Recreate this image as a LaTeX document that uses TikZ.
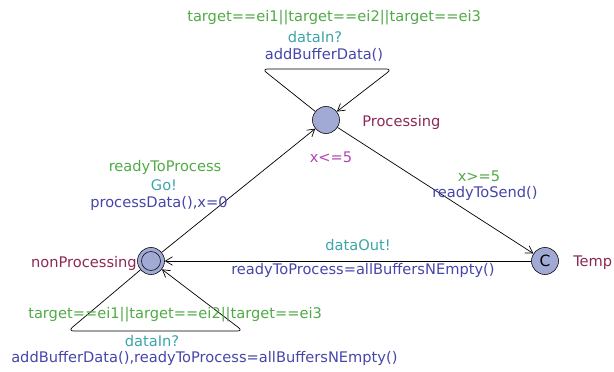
\documentclass[tikz,border=0pt]{standalone}
\usepackage{fontspec}
\setmainfont{DejaVu Sans}
\usetikzlibrary{arrows.meta}

\definecolor{guardc}{RGB}{80,170,70}
\definecolor{syncc}{RGB}{60,165,170}
\definecolor{assignc}{RGB}{70,70,170}
\definecolor{namec}{RGB}{140,40,85}
\definecolor{invc}{RGB}{175,70,180}
\definecolor{locfill}{RGB}{160,170,212}

\tikzset{
  loc/.style={circle,draw,fill=locfill,minimum size=27*0.7113pt,inner sep=0pt},
  edge/.style={-{Straight Barb[length=5pt,width=6pt]},line width=0.5pt},
  lbl/.style={font=\fontsize{10.4}{11}\selectfont,inner sep=0pt},
}

\begin{document}
\begin{tikzpicture}[x=0.025cm,y=-0.025cm]
			\useasboundingbox (0,0) rectangle (614,372);
			% locations
			\node[loc] (proc) at (326,120) {};
			\node[loc] (nonproc) at (151,261) {};
			\node[circle,draw,minimum size=19*0.7113pt,inner sep=0pt] at (nonproc) {};
			\node[loc] (temp) at (545,261) {};
			\node[lbl] at (temp) {\fontsize{11}{11}\selectfont C};
			\node[lbl,namec,anchor=west] at (362,122) {Processing};
			\node[lbl,namec,anchor=east] at (137,263) {nonProcessing};
			\node[lbl,namec,anchor=west] at (573,263) {Temp};
			\node[lbl,invc] at (331,157) {x<=5};
			% self loop on Processing
			\coordinate (pl) at (262,69);
			\coordinate (pr) at (392,69);
			\draw[edge,rounded corners=4pt] (proc) -- (pl) -- (pr) -- (proc);
			\node[lbl,guardc,anchor=west] at (187,18) {target==ei1||target==ei2||target==ei3};
			\node[lbl,syncc] at (315,37) {dataIn?};
			\node[lbl,assignc] at (324,55) {addBufferData()};
			% self loop on nonProcessing
			\coordinate (nl) at (68,331);
			\coordinate (nr) at (243,331);
			\draw[edge,rounded corners=4pt] (nonproc) -- (nl) -- (nr) -- (nonproc);
			\node[lbl,guardc,anchor=west] at (28,315) {target==ei1||target==ei2||target==ei3};
			\node[lbl,syncc] at (152,341) {dataIn?};
			\node[lbl,assignc,anchor=west] at (11,358) {addBufferData(),readyToProcess=allBuffersNEmpty()};
			% transitions
			\draw[edge] (nonproc) -- (proc);
			\node[lbl,guardc] at (165,167) {readyToProcess};
			\node[lbl,syncc] at (164,185) {Go!};
			\node[lbl,assignc,anchor=west] at (90,203) {processData(),x=0};
			\draw[edge] (proc) -- (temp);
			\node[lbl,guardc] at (479,176) {x>=5};
			\node[lbl,assignc,anchor=west] at (432,193) {readyToSend()};
			\draw[edge] (temp) -- (nonproc);
			\node[lbl,syncc] at (358,245) {dataOut!};
			\node[lbl,assignc,anchor=west] at (231,270) {readyToProcess=allBuffersNEmpty()};
		\end{tikzpicture}
\end{document}
